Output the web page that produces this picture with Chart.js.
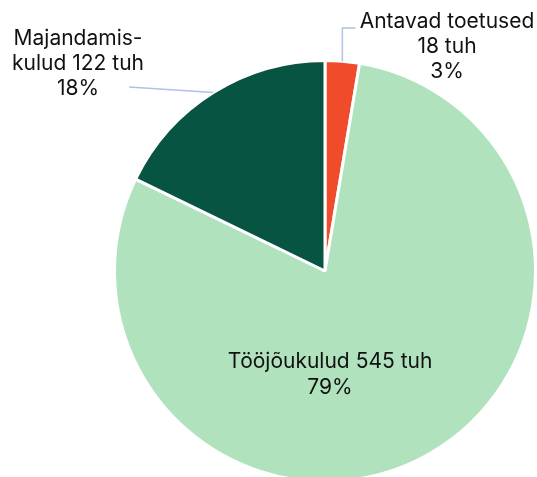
<!DOCTYPE html>
<html>
<head>
<meta charset="utf-8">
<script src="https://cdn.jsdelivr.net/npm/chart.js@4"></script>
<style>
  html, body { margin: 0; padding: 0; background: #fff; overflow: hidden; }
  #wrap { width: 537px; height: 490px; }
</style>
</head>
<body>
<div id="wrap"><canvas id="chart"></canvas></div>
<script>
const categories = ['Antavad toetused', 'Tööjõukulud', 'Majandamiskulud'];
const values = [18, 545, 122];
const percents = ['3%', '79%', '18%'];
const colors = ['#F04C2C', '#B1E2BE', '#075443'];

// label lines drawn next to each slice
const labelLines = [
  ['Antavad toetused', values[0] + ' tuh', percents[0]],
  ['Tööjõukulud ' + values[1] + ' tuh', percents[1]],
  ['Majandamis-', 'kulud ' + values[2] + ' tuh', percents[2]]
];

const pieLabels = {
  id: 'pieLabels',
  afterDraw(chart) {
    const ctx = chart.ctx;
    const arcs = chart.getDatasetMeta(0).data;
    ctx.save();
    ctx.font = '21px Inter';
    ctx.fillStyle = '#111';
    ctx.textAlign = 'center';
    ctx.textBaseline = 'alphabetic';
    ctx.strokeStyle = '#B4C0E8';
    ctx.lineWidth = 1.5;

    // Antavad toetused: line up from the arc, then right
    let a = arcs[0];
    let mid = (a.startAngle + a.endAngle) / 2;
    let px = a.x + Math.cos(mid) * a.outerRadius;
    let py = a.y + Math.sin(mid) * a.outerRadius;
    ctx.beginPath();
    ctx.moveTo(px, py);
    ctx.lineTo(px, 28);
    ctx.lineTo(px + 13, 28);
    ctx.stroke();
    labelLines[0].forEach((t, i) => ctx.fillText(t, 447, 28 + i * 25));

    // Majandamiskulud: line left from the arc
    a = arcs[2];
    mid = (a.startAngle + a.endAngle) / 2;
    px = a.x + Math.cos(mid) * a.outerRadius;
    py = a.y + Math.sin(mid) * a.outerRadius;
    ctx.beginPath();
    ctx.moveTo(px, py);
    ctx.lineTo(129, 87);
    ctx.stroke();
    labelLines[2].forEach((t, i) => ctx.fillText(t, 78, 45 + i * 25));

    // Tööjõukulud: inside the slice
    a = arcs[1];
    labelLines[1].forEach((t, i) => ctx.fillText(t, a.x + 5, a.y + 97 + i * 26));
    ctx.restore();
  }
};

new Chart(document.getElementById('chart'), {
  type: 'pie',
  data: {
    labels: categories,
    datasets: [{
      data: values,
      backgroundColor: colors,
      borderColor: '#fff',
      borderWidth: 3,
      hoverOffset: 0
    }]
  },
  options: {
    responsive: true,
    maintainAspectRatio: false,
    animation: false,
    layout: { padding: { left: 113, right: 0, top: 59, bottom: 7 } },
    plugins: {
      legend: { display: false },
      tooltip: { enabled: false }
    }
  },
  plugins: [pieLabels]
});
</script>
</body>
</html>
